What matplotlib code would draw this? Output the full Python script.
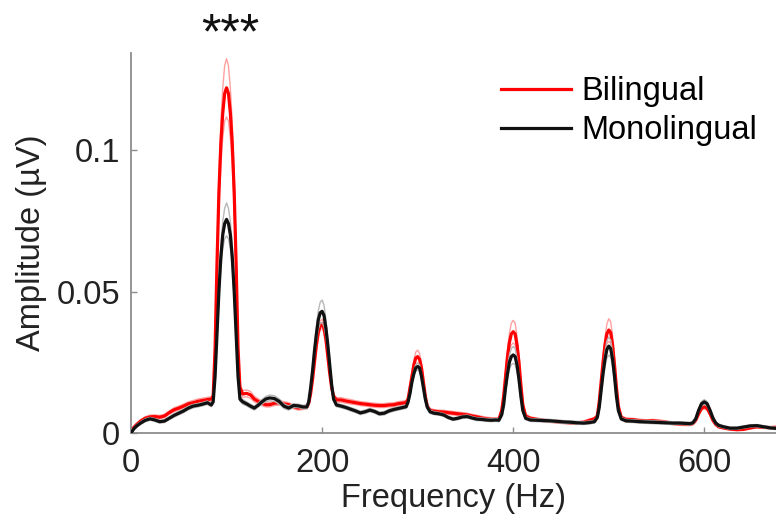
import matplotlib
matplotlib.use("Agg")
import matplotlib.pyplot as plt
import numpy as np

# FREQUENCY GRID (Hz), denser around the harmonics
freq = [
    0, 3, 6, 10, 15, 20, 25, 30, 35, 40, 45, 50, 55, 60, 65, 70, 75, 80,
    84, 86, 88, 90, 92, 94, 96, 98, 100, 102, 104, 106, 108, 110, 112, 114,
    117, 121, 125, 129, 133, 137, 141, 145, 150, 155, 160, 165, 170, 175, 180,
    184, 186, 188, 190, 192, 194, 196, 198, 200, 202, 204, 206, 208, 210, 212, 215,
    220, 225, 230, 235, 240, 245, 250, 255, 260, 265, 270, 275, 280, 285,
    288, 290, 292, 294, 296, 298, 300, 302, 304, 306, 308, 310, 313,
    317, 322, 327, 332, 337, 342, 347, 352, 357, 362, 367, 372, 377, 382,
    385, 388, 390, 392, 394, 396, 398, 400, 402, 404, 406, 408, 410, 413,
    418, 425, 432, 439, 446, 453, 460, 467, 474, 480, 485,
    488, 490, 492, 494, 496, 498, 500, 502, 504, 506, 508, 510, 513,
    518, 525, 532, 539, 546, 553, 560, 567, 574, 580, 585,
    588, 591, 594, 597, 600, 603, 606, 609, 612, 615,
    620, 627, 634, 641, 648, 655, 662, 669, 676,
]

# BILINGUAL mean amplitude (uV)
bilingual = [
    0.0, 0.002, 0.003, 0.0042, 0.0052, 0.0057, 0.0058, 0.0056, 0.006, 0.0072, 0.0082, 0.0088, 0.0095, 0.0103, 0.0107, 0.0112, 0.0115, 0.0118,
    0.012, 0.013, 0.03, 0.06, 0.085, 0.102, 0.113, 0.12, 0.122, 0.12, 0.113, 0.102, 0.085, 0.06, 0.03, 0.016,
    0.0138, 0.014, 0.0135, 0.012, 0.0112, 0.0105, 0.01, 0.01, 0.0105, 0.0107, 0.0103, 0.01, 0.0093, 0.0088, 0.009,
    0.0092, 0.0105, 0.014, 0.019, 0.025, 0.031, 0.0355, 0.038, 0.0387, 0.037, 0.033, 0.027, 0.021, 0.016, 0.013, 0.0117,
    0.0117, 0.0113, 0.011, 0.0107, 0.0104, 0.0102, 0.01, 0.0098, 0.0097, 0.0097, 0.0099, 0.01, 0.0104, 0.0106,
    0.0108, 0.012, 0.016, 0.02, 0.024, 0.0265, 0.027, 0.026, 0.023, 0.018, 0.013, 0.0095, 0.008,
    0.0077, 0.0075, 0.0074, 0.0072, 0.007, 0.0068, 0.0066, 0.0064, 0.006, 0.0057, 0.0053, 0.005, 0.0048, 0.0048,
    0.0048, 0.008, 0.013, 0.02, 0.027, 0.032, 0.035, 0.0358, 0.035, 0.031, 0.025, 0.017, 0.01, 0.006,
    0.0052, 0.0048, 0.0044, 0.0042, 0.004, 0.0038, 0.0036, 0.0035, 0.0038, 0.0045, 0.005,
    0.006, 0.011, 0.018, 0.025, 0.031, 0.035, 0.0364, 0.0355, 0.031, 0.024, 0.016, 0.0095, 0.0055,
    0.0048, 0.0047, 0.0044, 0.0042, 0.0043, 0.0041, 0.0038, 0.0034, 0.0032, 0.0031, 0.0031,
    0.0033, 0.0045, 0.0068, 0.0087, 0.0093, 0.0087, 0.0068, 0.0045, 0.003, 0.0022,
    0.0018, 0.0014, 0.0012, 0.0013, 0.0018, 0.0022, 0.002, 0.0019, 0.002,
]

# MONOLINGUAL mean amplitude (uV)
monolingual = [
    0.0, 0.0015, 0.0025, 0.0035, 0.0045, 0.005, 0.0046, 0.004, 0.0042, 0.0052, 0.0062, 0.007, 0.0078, 0.0088, 0.0095, 0.0098, 0.0102, 0.0107,
    0.0099, 0.011, 0.02, 0.035, 0.05, 0.062, 0.07, 0.074, 0.0755, 0.074, 0.07, 0.062, 0.05, 0.035, 0.02, 0.012,
    0.011, 0.0103, 0.0095, 0.0088, 0.0098, 0.011, 0.012, 0.0124, 0.0122, 0.0112, 0.0095, 0.0088, 0.0097, 0.0096, 0.0092,
    0.0092, 0.011, 0.016, 0.022, 0.029, 0.035, 0.04, 0.0425, 0.043, 0.0415, 0.037, 0.031, 0.024, 0.017, 0.012, 0.0099,
    0.0095, 0.009, 0.0084, 0.0078, 0.0071, 0.0075, 0.0081, 0.0076, 0.0068, 0.007, 0.0078, 0.0083, 0.0087, 0.0091,
    0.0093, 0.011, 0.014, 0.018, 0.021, 0.023, 0.0235, 0.023, 0.02, 0.016, 0.012, 0.0092, 0.0075,
    0.007, 0.0068, 0.0064, 0.0055, 0.0049, 0.0052, 0.0057, 0.0058, 0.0053, 0.0049, 0.0048, 0.0046, 0.0045, 0.0046,
    0.0045, 0.0065, 0.01, 0.016, 0.021, 0.025, 0.027, 0.0276, 0.027, 0.024, 0.019, 0.013, 0.008, 0.0052,
    0.0046, 0.0045, 0.0044, 0.0043, 0.0041, 0.0039, 0.0038, 0.0036, 0.0035, 0.0037, 0.004,
    0.0055, 0.009, 0.015, 0.021, 0.026, 0.0295, 0.0307, 0.0298, 0.026, 0.02, 0.013, 0.008, 0.005,
    0.0043, 0.0042, 0.004, 0.0039, 0.0038, 0.0037, 0.0036, 0.0035, 0.0035, 0.0034, 0.0033,
    0.0036, 0.005, 0.008, 0.0103, 0.011, 0.0103, 0.008, 0.0053, 0.0035, 0.0027,
    0.0022, 0.0017, 0.0017, 0.0021, 0.0025, 0.0026, 0.0022, 0.0018, 0.0016,
]

# STANDARD ERRORS
bilingual_se = [
    0.0, 0.0004, 0.0005, 0.0005, 0.0006, 0.0006, 0.0006, 0.0006, 0.0006, 0.0006, 0.0007, 0.0007, 0.0007, 0.0007, 0.0008, 0.0008, 0.0008, 0.0008,
    0.0008, 0.001, 0.002, 0.004, 0.006, 0.0075, 0.0088, 0.0098, 0.0103, 0.0098, 0.0088, 0.0075, 0.006, 0.004, 0.002, 0.0012,
    0.0012, 0.0012, 0.0012, 0.001, 0.0009, 0.0008, 0.0008, 0.0008, 0.0008, 0.0008, 0.0008, 0.0007, 0.0007, 0.0007, 0.0007,
    0.0007, 0.0008, 0.0009, 0.001, 0.0012, 0.0013, 0.0014, 0.0015, 0.0015, 0.0015, 0.0014, 0.0012, 0.001, 0.0009, 0.0008, 0.0008,
    0.0008, 0.0008, 0.0008, 0.0007, 0.0007, 0.0007, 0.0007, 0.0007, 0.0007, 0.0007, 0.0007, 0.0007, 0.0007, 0.0007,
    0.0007, 0.0008, 0.001, 0.0013, 0.0017, 0.0021, 0.0023, 0.0021, 0.0017, 0.0013, 0.001, 0.0008, 0.0006,
    0.0006, 0.0006, 0.0006, 0.0006, 0.0006, 0.0006, 0.0006, 0.0006, 0.0006, 0.0006, 0.0006, 0.0006, 0.0006, 0.0006,
    0.0006, 0.0008, 0.0012, 0.0018, 0.0025, 0.0032, 0.0038, 0.004, 0.0038, 0.0032, 0.0025, 0.0018, 0.001, 0.0006,
    0.0005, 0.0005, 0.0005, 0.0005, 0.0005, 0.0005, 0.0005, 0.0005, 0.0005, 0.0005, 0.0005,
    0.0005, 0.0008, 0.0013, 0.002, 0.0028, 0.0035, 0.004, 0.0038, 0.0032, 0.0024, 0.0016, 0.001, 0.0006,
    0.0005, 0.0005, 0.0005, 0.0005, 0.0005, 0.0005, 0.0005, 0.0005, 0.0005, 0.0005, 0.0005,
    0.0004, 0.0005, 0.0006, 0.0007, 0.0008, 0.0007, 0.0006, 0.0005, 0.0004, 0.0004,
    0.0004, 0.0004, 0.0004, 0.0004, 0.0004, 0.0004, 0.0004, 0.0004, 0.0004,
]

monolingual_se = [
    0.0, 0.0004, 0.0005, 0.0005, 0.0005, 0.0005, 0.0005, 0.0005, 0.0005, 0.0005, 0.0006, 0.0006, 0.0006, 0.0006, 0.0006, 0.0006, 0.0006, 0.0006,
    0.0006, 0.0007, 0.0012, 0.002, 0.003, 0.0038, 0.0047, 0.0054, 0.0058, 0.0054, 0.0047, 0.0038, 0.003, 0.002, 0.0012, 0.0008,
    0.0008, 0.0007, 0.0007, 0.0007, 0.0007, 0.0008, 0.0009, 0.001, 0.001, 0.0009, 0.0008, 0.0007, 0.0007, 0.0006, 0.0006,
    0.0006, 0.0008, 0.001, 0.0014, 0.0019, 0.0025, 0.0032, 0.0037, 0.004, 0.0037, 0.003, 0.0022, 0.0016, 0.0011, 0.0008, 0.0006,
    0.0006, 0.0006, 0.0006, 0.0006, 0.0006, 0.0006, 0.0006, 0.0006, 0.0006, 0.0006, 0.0006, 0.0006, 0.0006, 0.0006,
    0.0006, 0.0007, 0.0008, 0.0009, 0.001, 0.0011, 0.0012, 0.0011, 0.001, 0.0009, 0.0008, 0.0007, 0.0006,
    0.0005, 0.0005, 0.0005, 0.0005, 0.0005, 0.0005, 0.0005, 0.0005, 0.0005, 0.0005, 0.0005, 0.0005, 0.0005, 0.0005,
    0.0005, 0.0007, 0.001, 0.0015, 0.002, 0.0025, 0.0028, 0.003, 0.0028, 0.0024, 0.0018, 0.0012, 0.0008, 0.0005,
    0.0005, 0.0005, 0.0005, 0.0005, 0.0005, 0.0005, 0.0005, 0.0005, 0.0005, 0.0005, 0.0005,
    0.0005, 0.0008, 0.0013, 0.002, 0.0026, 0.003, 0.0032, 0.003, 0.0026, 0.002, 0.0013, 0.0008, 0.0005,
    0.0005, 0.0005, 0.0005, 0.0005, 0.0005, 0.0005, 0.0005, 0.0005, 0.0005, 0.0005, 0.0005,
    0.0005, 0.0006, 0.0007, 0.0008, 0.0008, 0.0008, 0.0007, 0.0006, 0.0005, 0.0005,
    0.0004, 0.0004, 0.0004, 0.0004, 0.0004, 0.0004, 0.0004, 0.0004, 0.0004,
]

x_ticks = [0, 200, 400, 600]
y_ticks = [0, 0.05, 0.1]
y_tick_labels = ["0", "0.05", "0.1"]

plt.rcParams['font.family'] = ['Liberation Sans', 'DejaVu Sans']
FS = 23.5


def main():
    f = np.array(freq, dtype=float)
    bi = np.array(bilingual)
    mono = np.array(monolingual)
    bi_se = np.array(bilingual_se)
    mono_se = np.array(monolingual_se)

    fig = plt.figure(figsize=(7.76, 5.21), dpi=100)
    ax = fig.add_axes([131 / 776, 88 / 521, 645 / 776, 380 / 521])

    # SE lines first, then the means on top
    ax.plot(f, bi + bi_se, color='#ffa0a0', lw=1.0, zorder=1)
    ax.plot(f, bi - bi_se, color='#ffa0a0', lw=1.0, zorder=1)
    ax.plot(f, bi, color='#ff0000', lw=2.3, label='Bilingual', zorder=2)
    ax.plot(f, mono + mono_se, color='#b8b8b8', lw=1.0, zorder=3)
    ax.plot(f, mono - mono_se, color='#b8b8b8', lw=1.0, zorder=3)
    ax.plot(f, mono, color='#111111', lw=2.3, label='Monolingual', zorder=4)

    ax.set_xlim(0, 675)
    ax.set_ylim(0, 0.1343)
    ax.set_xticks(x_ticks)
    ax.set_yticks(y_ticks)
    ax.set_yticklabels(y_tick_labels)

    for side in ['top', 'right']:
        ax.spines[side].set_visible(False)
    for side in ['left', 'bottom']:
        ax.spines[side].set_color('#8c8c8c')
        ax.spines[side].set_linewidth(1.3)
    ax.tick_params(direction='in', length=4, width=1, color='#8c8c8c',
                   labelsize=FS, labelcolor='#222222')
    ax.tick_params(axis='x', pad=11)
    ax.tick_params(axis='y', pad=8)

    ax.set_xlabel('Frequency (Hz)', fontsize=FS, color='#222222', labelpad=3)
    ax.set_ylabel('Amplitude (\u00b5V)', fontsize=FS, color='#222222', labelpad=7)

    # significance marker above the 100 Hz peak
    ax.text(104, 0.1359, '***', fontsize=36, ha='center', va='baseline',
            color='#111111', clip_on=False)

    ax.legend(loc='upper left', bbox_to_anchor=(501 / 776, 1 - 76 / 521),
              bbox_transform=fig.transFigure, frameon=False, fontsize=FS,
              borderpad=0, borderaxespad=0, handlelength=2.15,
              handletextpad=0.3, labelspacing=0.25)

    fig.savefig('out.png', dpi=100)


if __name__ == "__main__":
    main()
